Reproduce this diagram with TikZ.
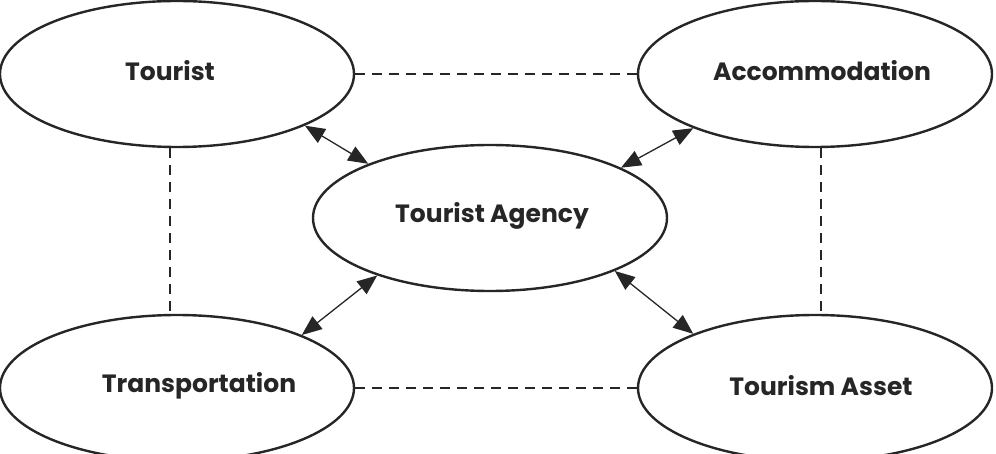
\documentclass[tikz,border=0pt]{standalone}
\usepackage{fontspec}
\setmainfont{Poppins}
\usetikzlibrary{arrows.meta,shapes.geometric}
\definecolor{ink}{RGB}{38,38,38}
\begin{document}
\begin{tikzpicture}[x=1pt,y=-1pt,
  oval/.style={ellipse,draw=ink,line width=2.4pt,minimum width=354pt,minimum height=146pt,inner sep=0pt},
  lbl/.style={font=\bfseries\fontsize{25}{30}\selectfont,text=ink,inner sep=0pt},
  link/.style={draw=ink,line width=1.6pt,dash pattern=on 10pt off 7pt},
  rel/.style={draw=ink,line width=1.3pt,{Triangle[length=20pt,width=16pt]}-{Triangle[length=20pt,width=16pt]}}]
\useasboundingbox (0,0) rectangle (996,454);
\clip (0,0) rectangle (996,454);
\node[oval] (tou) at (177,74) {};
\node[oval] (acc) at (815,74) {};
\node[oval] (age) at (490,218) {};
\node[oval] (tra) at (177,388) {};
\node[oval] (ass) at (815,388) {};
\node[lbl] (ttou) at (170,71) {Tourist};
\node[lbl] (tacc) at (822,71) {Accommodation};
\node[lbl] (tage) at (492,216) {Tourist Agency};
\node[lbl] (ttra) at (199,386) {Transportation};
\node[lbl] (tass) at (821,386) {Tourism Asset};
\coordinate (lx) at (170,0);
\coordinate (rx) at (821,0);
\draw[link] (tou.east) -- (acc.west);
\draw[link] (tra.east) -- (ass.west);
\draw[link] (tou.south -| lx) -- (tra.north -| lx);
\draw[link] (acc.south -| rx) -- (ass.north -| rx);
\draw[rel] (tou.-22) -- (age.156);
\draw[rel] (acc.204) -- (age.21);
\draw[rel] (tra.23) -- (age.207);
\draw[rel] (ass.156) -- (age.-23);
\end{tikzpicture}
\end{document}
